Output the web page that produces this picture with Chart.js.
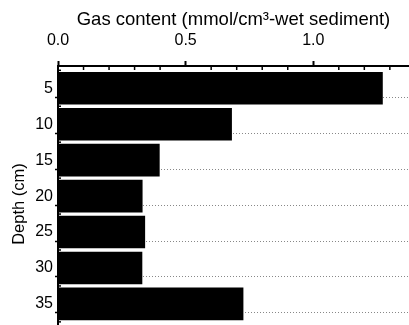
<!DOCTYPE html>
<html>
<head>
<meta charset="utf-8">
<script src="https://cdn.jsdelivr.net/npm/chart.js@4"></script>
<style>
  body { margin: 0; background: #fff; }
  #wrap { width: 409px; height: 325px; overflow: hidden; }
</style>
</head>
<body>
<div id="wrap">
  <canvas id="gasChart" width="409" height="342"></canvas>
</div>
<script>
// depth (cm) of each bar and its gas content
var depths = [5, 10, 15, 20, 25, 30, 35];
var gasContent = [1.271, 0.680, 0.397, 0.330, 0.340, 0.329, 0.725];
var xTickValues = [0.0, 0.5, 1.0];
var depthLabels = [5, 10, 15, 20, 25, 30, 35];

var points = depths.map(function (d, i) {
    return { x: gasContent[i], y: d };
});

// boundaries between the depth classes get the dotted lines
function isBoundary(c) {
    if (!c.tick) return false;
    return Math.abs(c.tick.value % 5 - 2.5) < 0.01;
}

// small ticks every 0.1 pointing down into the plot
var minorTicks = {
    id: 'minorTicks',
    afterDraw: function (chart) {
        var ctx = chart.ctx;
        var xs = chart.scales.x;
        var top = chart.chartArea.top;
        ctx.save();
        ctx.strokeStyle = '#000';
        ctx.lineWidth = 1.5;
        for (var i = 1; i <= 13; i++) {
            if (i % 5 === 0) continue;
            var px = xs.getPixelForValue(i / 10);
            ctx.beginPath();
            ctx.moveTo(px, top);
            ctx.lineTo(px, top + 4);
            ctx.stroke();
        }
        // little stubs of the left ticks poking into the plot
        var ys = chart.scales.y;
        var left = chart.chartArea.left;
        for (var d = 2.5; d < 40; d += 5) {
            var py = ys.getPixelForValue(d);
            ctx.beginPath();
            ctx.moveTo(left, py);
            ctx.lineTo(left + 3, py);
            ctx.stroke();
        }
        ctx.restore();
    }
};

var ctx = document.getElementById('gasChart').getContext('2d');
var gasChart = new Chart(ctx, {
    type: 'bar',
    data: {
        datasets: [{
            data: points,
            backgroundColor: '#000',
            borderWidth: 0,
            barThickness: 32
        }]
    },
    options: {
        indexAxis: 'y',
        responsive: false,
        animation: false,
        layout: { padding: 0 },
        plugins: {
            legend: { display: false },
            tooltip: { enabled: false }
        },
        scales: {
            x: {
                type: 'linear',
                position: 'top',
                min: 0,
                max: 1.375,
                afterBuildTicks: function (scale) {
                    scale.ticks = xTickValues.map(function (v) { return { value: v }; });
                },
                afterFit: function (scale) { scale.height = 66; },
                ticks: {
                    color: '#000',
                    padding: 11,
                    maxRotation: 0,
                    font: { family: 'Liberation Sans', size: 16 },
                    callback: function (v) { return v.toFixed(1); }
                },
                grid: {
                    drawOnChartArea: false,
                    drawTicks: true,
                    tickLength: 5,
                    tickColor: '#000',
                    tickWidth: 2
                },
                border: { display: true, color: '#000', width: 2 },
                title: {
                    display: true,
                    text: 'Gas content (mmol/cm\u00b3-wet sediment)',
                    color: '#000',
                    font: { family: 'Liberation Sans', size: 18.5 },
                    padding: { top: 9, bottom: 0 }
                }
            },
            y: {
                type: 'linear',
                reverse: true,
                offset: false,
                min: 1.9,
                max: 40.3,
                afterBuildTicks: function (scale) {
                    var t = [];
                    for (var v = 2.5; v <= 37.5; v += 2.5) t.push({ value: v });
                    scale.ticks = t;
                },
                afterFit: function (scale) {
                    scale.width = 58;
                    scale.paddingTop = 0;
                    scale.paddingBottom = 0;
                },
                ticks: {
                    color: '#000',
                    padding: 2,
                    autoSkip: false,
                    font: { family: 'Liberation Sans', size: 16 },
                    callback: function (v) {
                        return depthLabels.indexOf(v) >= 0 ? String(v) : '';
                    }
                },
                grid: {
                    color: function (c) { return isBoundary(c) ? '#888' : 'rgba(0,0,0,0)'; },
                    lineWidth: 1,
                    tickLength: 3,
                    tickWidth: 1.5,
                    tickColor: function (c) { return isBoundary(c) ? '#000' : 'rgba(0,0,0,0)'; }
                },
                border: { display: true, color: '#000', width: 2, dash: [1, 2] },
                title: {
                    display: true,
                    text: 'Depth (cm)',
                    color: '#000',
                    font: { family: 'Liberation Sans', size: 16.5 },
                    padding: { top: 10, bottom: 0 }
                }
            }
        }
    },
    plugins: [minorTicks]
});
</script>
</body>
</html>
